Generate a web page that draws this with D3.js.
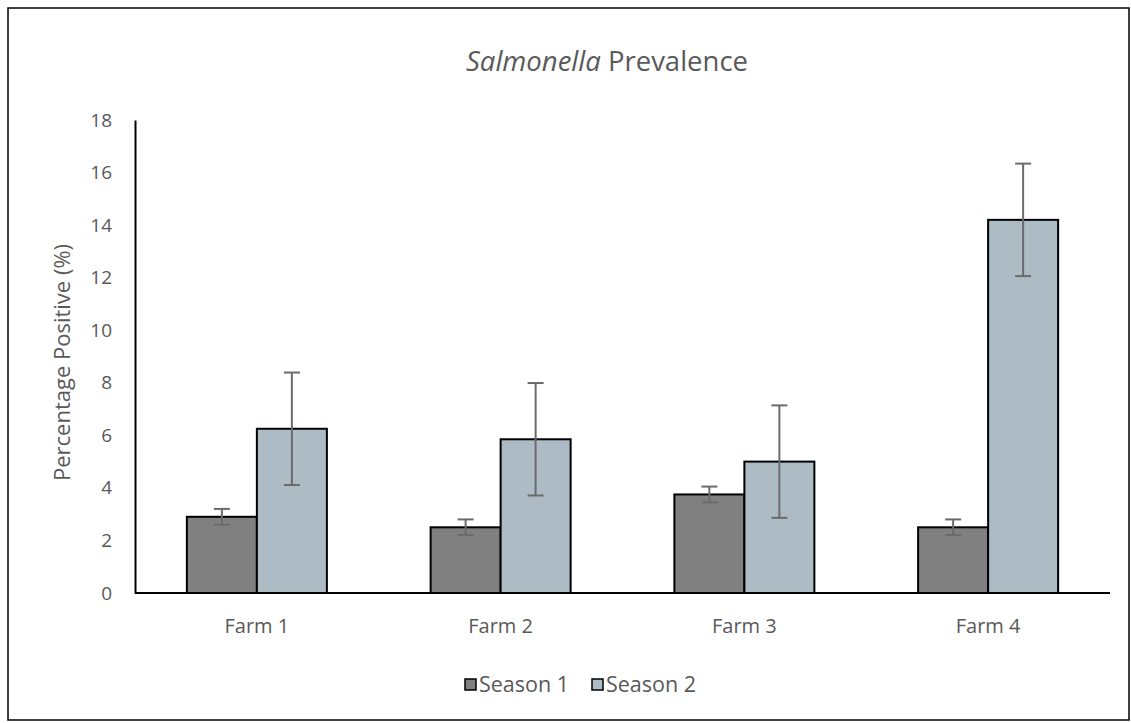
<!DOCTYPE html>
<html>
<head>
<meta charset="utf-8">
<script src="https://cdn.jsdelivr.net/npm/d3@7"></script>
<style>
  html, body { margin: 0; padding: 0; background: #fff; }
  svg { display: block; }
  text { font-family: "Open Sans", "Noto Sans", sans-serif; fill: #595959; }
</style>
</head>
<body>
<svg id="chart" width="1131" height="723"></svg>
<script>
const categories = ["Farm 1", "Farm 2", "Farm 3", "Farm 4"];
const seriesNames = ["Season 1", "Season 2"];
const season1 = [2.9, 2.5, 3.75, 2.5];
const season2 = [6.25, 5.85, 5.0, 14.2];
const season1Err = [0.3, 0.3, 0.3, 0.3];
const season2Err = [2.14, 2.14, 2.14, 2.14];
const yTicks = [0, 2, 4, 6, 8, 10, 12, 14, 16, 18];
const colors = ["#808080", "#adbbc4"];

(function () {
const svg = d3.select("#chart");
const W = 1131, H = 723;
const mLeft = 135, mRight = 1110, mTop = 120, mBottom = 593;

// outer border
svg.append("rect").attr("x", 8).attr("y", 8).attr("width", W - 10).attr("height", H - 11)
  .attr("fill", "#fff").attr("stroke", "#000").attr("stroke-width", 1.5);

const x = d3.scaleBand().domain(categories).range([mLeft, mRight])
  .paddingInner(0.4256).paddingOuter(0.2128);
const xs = d3.scaleBand().domain(seriesNames).range([0, x.bandwidth()]);
const y = d3.scaleLinear().domain([0, 18]).range([mBottom, mTop]);

const data = [];
categories.forEach((c, i) => {
  data.push({cat: c, s: seriesNames[0], v: season1[i], e: season1Err[i], col: colors[0]});
  data.push({cat: c, s: seriesNames[1], v: season2[i], e: season2Err[i], col: colors[1]});
});

// bars
svg.append("g").selectAll("rect").data(data).join("rect")
  .attr("x", d => x(d.cat) + xs(d.s))
  .attr("y", d => y(d.v))
  .attr("width", xs.bandwidth())
  .attr("height", d => y(0) - y(d.v))
  .attr("fill", d => d.col)
  .attr("stroke", "#000").attr("stroke-width", 2);

// error bars
const eg = svg.append("g").attr("stroke", "#6b6b6b").attr("stroke-width", 2);
data.forEach(d => {
  const cx = x(d.cat) + xs(d.s) + xs.bandwidth() / 2;
  eg.append("line").attr("x1", cx).attr("x2", cx).attr("y1", y(d.v + d.e)).attr("y2", y(d.v - d.e));
  [d.v + d.e, d.v - d.e].forEach(val => {
    eg.append("line").attr("x1", cx - 8).attr("x2", cx + 8).attr("y1", y(val)).attr("y2", y(val));
  });
});

// y axis
const yAxis = d3.axisLeft(y).tickValues(yTicks).tickSize(0).tickPadding(23).tickFormat(d3.format("d"));
const yg = svg.append("g").attr("transform", `translate(${mLeft},0)`).call(yAxis);
yg.select(".domain").attr("stroke", "#000").attr("stroke-width", 2);
yg.selectAll("text").attr("font-size", 19).style("font-family", "'Open Sans', sans-serif").attr("fill", "#595959");

// x axis
const xAxis = d3.axisBottom(x).tickSize(0).tickPadding(26);
const xg = svg.append("g").attr("transform", `translate(0,${mBottom})`).call(xAxis);
xg.select(".domain").attr("stroke", "#000").attr("stroke-width", 2).attr("d", `M${mLeft},0H${mRight}`);
xg.selectAll("text").attr("font-size", 20).style("font-family", "'Open Sans', sans-serif").attr("fill", "#595959");

// title
const title = svg.append("text").attr("x", 607).attr("y", 71).attr("text-anchor", "middle").attr("font-size", 27.5);
title.append("tspan").attr("font-style", "italic").text("Salmonella");
title.append("tspan").text(" Prevalence");

// y title
svg.append("text").attr("transform", `translate(70,${(mTop + mBottom) / 2 + 6}) rotate(-90)`)
  .attr("text-anchor", "middle").attr("font-size", 22).text("Percentage Positive (%)");

// legend
const lg = svg.append("g");
const legendX = [465, 592];
seriesNames.forEach((s, i) => {
  lg.append("rect").attr("x", legendX[i]).attr("y", 679).attr("width", 11).attr("height", 11)
    .attr("fill", colors[i]).attr("stroke", "#000").attr("stroke-width", 1.5);
  lg.append("text").attr("x", legendX[i] + 14).attr("y", 692).attr("font-size", 21.5).text(s);
});
})();
</script>
</body>
</html>
